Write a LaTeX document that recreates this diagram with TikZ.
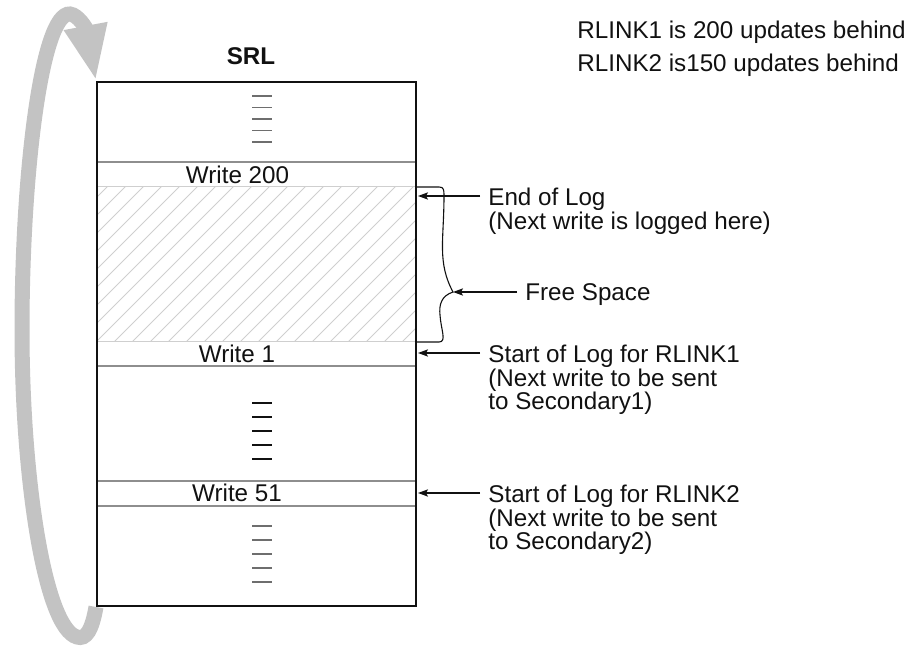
\documentclass[tikz,border=0pt]{standalone}
\usepackage{fontspec}
\setmainfont{Liberation Sans}
\usetikzlibrary{arrows.meta}
\usetikzlibrary{positioning}
\definecolor{srlink}{HTML}{111111}
\definecolor{srlrule}{HTML}{8E8E8E}
\definecolor{srlhatch}{HTML}{CFCFCF}
\definecolor{srldash}{HTML}{6E6E6E}
\definecolor{srlloop}{HTML}{C3C3C3}
\tikzset{
  srlbox/.style={draw=srlink, line width=1pt},
  srlrow/.style={draw=srlrule, line width=0.6pt},
  srlhatchline/.style={draw=srlhatch, line width=0.5pt},
  srltick/.style={draw=srldash, line width=0.9pt},
  srlarrow/.style={-{Stealth[length=5pt, width=3.6pt, inset=1pt]},
    draw=srlink, line width=0.55pt},
  srlloopline/.style={-{Triangle[length=28pt, width=20pt]},
    draw=srlloop, line width=7.5pt},
  srltext/.style={font=\fontsize{12.1}{11.75}\selectfont, text=srlink,
    inner sep=0pt},
  srllabel/.style={srltext, align=left, anchor=north west,
    inner xsep=4pt},
}

\begin{document}
\begin{tikzpicture}[x=0.5pt, y=-0.5pt]
\useasboundingbox (0,0) rectangle (907,646);

% Header.
\node[srltext, anchor=base, font=\fontsize{12.1}{12}\selectfont\bfseries]
  (title) at (251,65) {SRL};
\node[srltext, anchor=base west] (lag1) at (577,39)
  {RLINK1 is 200 updates behind};
\node[srltext, anchor=base west] (lag2) at (577,72)
  {RLINK2 is150 updates behind};

% The log body.
\begin{scope}
  \clip (97,187) rectangle (416,342);
  \foreach \x in {-138,-120,...,404}
    \draw[srlhatchline] (\x,342) -- ++(160,-160);
\end{scope}
\draw[srlhatchline] (97,187) -- (416,187);
\draw[srlhatchline] (97,342) -- (416,342);
\foreach \y in {162,366,481,506}
  \draw[srlrow] (97,\y) -- (416,\y);
\node[srlbox, minimum width=159.5pt, minimum height=262pt, inner sep=0pt]
  (srl) at (256.5,344) {};

% Slot texts and elided rows.
\node[srltext, anchor=base] (w200) at (237.5,183.5) {Write 200};
\node[srltext, anchor=base] (w1) at (237,362.5) {Write 1};
\node[srltext, anchor=base] (w51) at (237,501.5) {Write 51};
\foreach \y in {96,107.5,119,130.5,142}
  \draw[srltick] (252,\y) -- (272,\y);
\foreach \y in {403,417,431,445,459}
  \draw[srltick, draw=srlink] (252,\y) -- (272,\y);
\foreach \y in {526,540,554,568,582}
  \draw[srltick] (252,\y) -- (272,\y);

% Free space brace.
\draw[draw=srlink, line width=0.55pt]
  (srl.east |- 0,187) -- (439,187)
  .. controls (444,187) and (444,190) .. (444,196)
  .. controls (444,240) and (437,262) .. (453,292)
  .. controls (441,296) and (439,305) .. (440,315)
  .. controls (441,330) and (447,342) .. (439,342)
  -- (srl.east |- 0,342);

% Pointers into the log.
\coordinate (endtip) at (418,196);
\coordinate (freetip) at (453,292);
\coordinate (start1tip) at (418,353);
\coordinate (start2tip) at (418,493);
\node[srllabel] (endlbl) at (480,188)
  {End of Log\\(Next write is logged here)};
\node[srltext, anchor=base west, inner xsep=4pt] (freelbl) at (517,300.5)
  {Free Space};
\node[srllabel] (start1lbl) at (480,345)
  {Start of Log for RLINK1\\(Next write to be sent\\to Secondary1)};
\node[srllabel] (start2lbl) at (480,485)
  {Start of Log for RLINK2\\(Next write to be sent\\to Secondary2)};
\draw[srlarrow] (endlbl.west |- endtip) -- (endtip);
\draw[srlarrow] (freelbl.west |- freetip) -- (freetip);
\draw[srlarrow] (start1lbl.west |- start1tip) -- (start1tip);
\draw[srlarrow] (start2lbl.west |- start2tip) -- (start2tip);

% Wrap-around of the circular log.
\draw[srlloopline] (srl.south west)
  .. controls (92,630) and (86,640) .. (77,637)
  .. controls (45,628) and (22,480) .. (22,330)
  .. controls (22,170) and (42,12) .. (70,14)
  .. controls (78,15) and (86,28) .. (srl.north west);

\end{tikzpicture}
\end{document}
